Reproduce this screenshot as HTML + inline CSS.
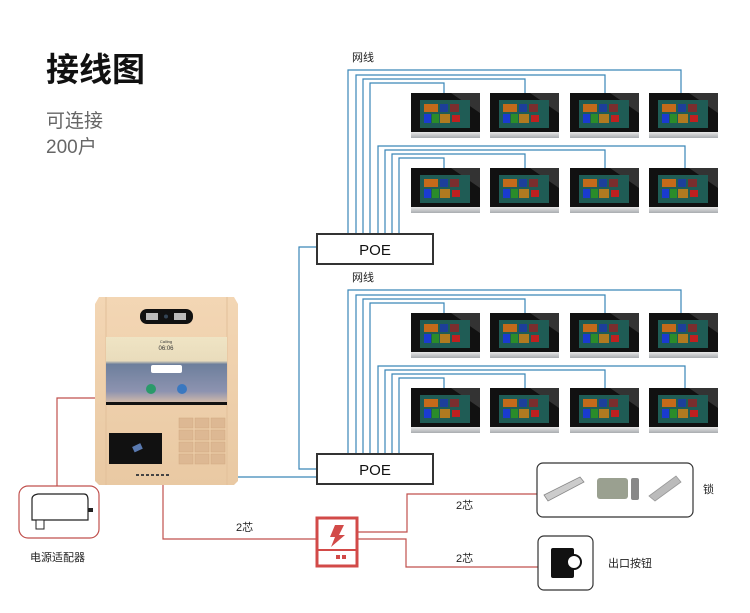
<!DOCTYPE html>
<html><head><meta charset="utf-8"><style>
html,body{margin:0;padding:0;background:#fff}
svg{display:block}
text{font-family:"Liberation Sans","Noto Sans CJK SC",sans-serif}
</style></head><body>
<svg width="750" height="613" viewBox="0 0 750 613" xmlns="http://www.w3.org/2000/svg">
<defs>
<linearGradient id="sil" x1="0" y1="0" x2="0" y2="1"><stop offset="0" stop-color="#e8e8e8"/><stop offset="1" stop-color="#a8acb0"/></linearGradient>
<linearGradient id="gold" x1="0" y1="0" x2="0" y2="1"><stop offset="0" stop-color="#f3d6b4"/><stop offset="1" stop-color="#e9c9a3"/></linearGradient>
<linearGradient id="sky" x1="0" y1="0" x2="0" y2="1"><stop offset="0" stop-color="#efe4c4"/><stop offset="0.35" stop-color="#e9dcbc"/><stop offset="0.4" stop-color="#6d7f9c"/><stop offset="0.8" stop-color="#8d93b0"/><stop offset="1" stop-color="#e0c2a8"/></linearGradient>
<g id="mon">
<rect x="0" y="0" width="69" height="39" fill="#111"/>
<polygon points="40,0 69,0 69,20" fill="#333"/>
<rect x="0" y="39" width="69" height="6" fill="url(#sil)"/>
<rect x="9" y="7" width="50" height="28" fill="#1f5c55"/>
<rect x="13" y="11" width="14" height="8" fill="#c46a1a"/>
<rect x="29" y="11" width="8" height="8" fill="#1d3f9a"/>
<rect x="39" y="11" width="9" height="8" fill="#7a2e2e"/>
<rect x="13" y="21" width="7" height="9" fill="#1a3bd0"/>
<rect x="21" y="21" width="7" height="9" fill="#2a8c2a"/>
<rect x="29" y="21" width="10" height="9" fill="#b07a20"/>
<rect x="41" y="22" width="8" height="7" fill="#c02020"/>
</g>
</defs>

<!-- title -->
<text x="46" y="81" font-size="33" font-weight="bold" fill="#111">接线图</text>
<text x="46" y="127" font-size="19" fill="#666">可连接</text>
<text x="46" y="153" font-size="19" fill="#666">200户</text>

<!-- network lines group 1 & 2 -->
<g fill="none" stroke="#3a86b8" stroke-width="1.2">
<g id="grp">
<polyline points="348,234 348,70 681,70 681,93"/>
<polyline points="356,234 356,75 605,75 605,93"/>
<polyline points="363,234 363,79 525,79 525,93"/>
<polyline points="370,234 370,83 444,83 444,93"/>
<polyline points="378,234 378,146 685,146 685,168"/>
<polyline points="385,234 385,150 605,150 605,168"/>
<polyline points="392,234 392,154 525,154 525,168"/>
<polyline points="399,234 399,158 444,158 444,168"/>
</g>
<use href="#grp" transform="translate(0,220)"/>
<polyline points="317,247 299,247 299,469 317,469"/>
<polyline points="238,477 317,477"/>
</g>
<text x="352" y="61" font-size="11" fill="#222">网线</text>
<text x="352" y="281" font-size="11" fill="#222">网线</text>

<!-- monitors -->
<use href="#mon" x="411" y="93"/><use href="#mon" x="490" y="93"/><use href="#mon" x="570" y="93"/><use href="#mon" x="649" y="93"/>
<use href="#mon" x="411" y="168"/><use href="#mon" x="490" y="168"/><use href="#mon" x="570" y="168"/><use href="#mon" x="649" y="168"/>
<use href="#mon" x="411" y="313"/><use href="#mon" x="490" y="313"/><use href="#mon" x="570" y="313"/><use href="#mon" x="649" y="313"/>
<use href="#mon" x="411" y="388"/><use href="#mon" x="490" y="388"/><use href="#mon" x="570" y="388"/><use href="#mon" x="649" y="388"/>

<!-- POE boxes -->
<rect x="317" y="234" width="116" height="30" fill="#fff" stroke="#333" stroke-width="2"/>
<text x="375" y="255" font-size="15" text-anchor="middle" fill="#111">POE</text>
<rect x="317" y="454" width="116" height="30" fill="#fff" stroke="#333" stroke-width="2"/>
<text x="375" y="475" font-size="15" text-anchor="middle" fill="#111">POE</text>

<!-- red lines -->
<g fill="none" stroke="#c0504d" stroke-width="1.2">
<polyline points="95,398 57,398 57,487"/>
<polyline points="163,485 163,539 316,539"/>
<polyline points="357,532 407,532 407,494 537,494"/>
<polyline points="357,539 406,539 406,567 538,567"/>
</g>
<text x="236" y="531" font-size="11" fill="#222">2芯</text>
<text x="456" y="509" font-size="11" fill="#222">2芯</text>
<text x="456" y="562" font-size="11" fill="#222">2芯</text>

<!-- door panel -->
<polygon points="99,297 234,297 238,304 238,481 234,485 99,485 95,481 95,304" fill="url(#gold)"/>
<line x1="106" y1="297" x2="106" y2="485" stroke="#e2c09a"/>
<line x1="227" y1="297" x2="227" y2="485" stroke="#e2c09a"/>
<rect x="140" y="309" width="53" height="15" rx="7" fill="#111"/>
<rect x="146" y="313" width="12" height="7" fill="#bbb"/><rect x="174" y="313" width="12" height="7" fill="#bbb"/>
<circle cx="166" cy="316.5" r="2" fill="#345"/>
<rect x="106" y="337" width="121" height="68" fill="url(#sky)"/>
<rect x="106" y="402" width="121" height="3" fill="#111"/>
<text x="166" y="343" font-size="4" text-anchor="middle" fill="#333">Calling</text>
<text x="166" y="350" font-size="6" text-anchor="middle" fill="#333">06:06</text>
<rect x="151" y="365" width="31" height="8" rx="2" fill="#fff"/>
<circle cx="151" cy="389" r="5" fill="#2a9a6a"/><circle cx="182" cy="389" r="5" fill="#3a78c0"/>
<rect x="109" y="433" width="53" height="31" fill="#111"/>
<rect x="133" y="445" width="9" height="6" fill="#5a7ab0" transform="rotate(-25 137 448)"/>
<g fill="#ddb893" stroke="#d0a880" stroke-width="0.5">
<rect x="179" y="418" width="14" height="10"/><rect x="195" y="418" width="14" height="10"/><rect x="211" y="418" width="14" height="10"/>
<rect x="179" y="430" width="14" height="10"/><rect x="195" y="430" width="14" height="10"/><rect x="211" y="430" width="14" height="10"/>
<rect x="179" y="442" width="14" height="10"/><rect x="195" y="442" width="14" height="10"/><rect x="211" y="442" width="14" height="10"/>
<rect x="179" y="454" width="14" height="10"/><rect x="195" y="454" width="14" height="10"/><rect x="211" y="454" width="14" height="10"/>
</g>
<line x1="136" y1="475" x2="170" y2="475" stroke="#444" stroke-width="2" stroke-dasharray="3,2"/>

<!-- power adapter -->
<rect x="19" y="486" width="80" height="52" rx="9" fill="#fff" stroke="#c0504d" stroke-width="1.2"/>
<path d="M32,499 Q32,495 38,494 L84,494 Q88,494 88,500 L88,520 L32,520 Z" fill="#fff" stroke="#222" stroke-width="1.2"/>
<rect x="88" y="508" width="5" height="4" fill="#222"/>
<rect x="36" y="520" width="8" height="9" fill="#fff" stroke="#222"/>
<text x="30" y="561" font-size="11" fill="#222">电源适配器</text>

<!-- red device -->
<rect x="317" y="518" width="40" height="48" fill="#fff" stroke="#d24a48" stroke-width="3"/>
<polygon points="335,525 344,525 339,535 345,535 331,547 335,537 330,537" fill="#d24a48"/>
<line x1="318" y1="550" x2="356" y2="550" stroke="#d24a48" stroke-width="2"/>
<rect x="336" y="555" width="4" height="4" fill="#d24a48"/><rect x="342" y="555" width="4" height="4" fill="#d24a48"/>

<!-- lock box -->
<rect x="537" y="463" width="156" height="54" rx="6" fill="#fff" stroke="#333" stroke-width="1.2"/>
<polygon points="544,495 580,477 584,482 548,501" fill="#ccc" stroke="#888" stroke-width="0.8"/>
<rect x="597" y="478" width="31" height="21" rx="3" fill="#9aa090"/>
<rect x="631" y="478" width="8" height="22" rx="2" fill="#888"/>
<polygon points="649,496 676,476 681,482 655,501" fill="#bbb" stroke="#999" stroke-width="0.8"/>
<text x="703" y="493" font-size="11" fill="#222">锁</text>

<!-- exit button -->
<rect x="538" y="536" width="55" height="54" rx="6" fill="#fff" stroke="#333" stroke-width="1.2"/>
<rect x="551" y="548" width="23" height="30" rx="2" fill="#111"/>
<circle cx="574" cy="562" r="7" fill="#fff" stroke="#111" stroke-width="2"/>
<text x="608" y="567" font-size="11" fill="#222">出口按钮</text>
</svg>
</body></html>
